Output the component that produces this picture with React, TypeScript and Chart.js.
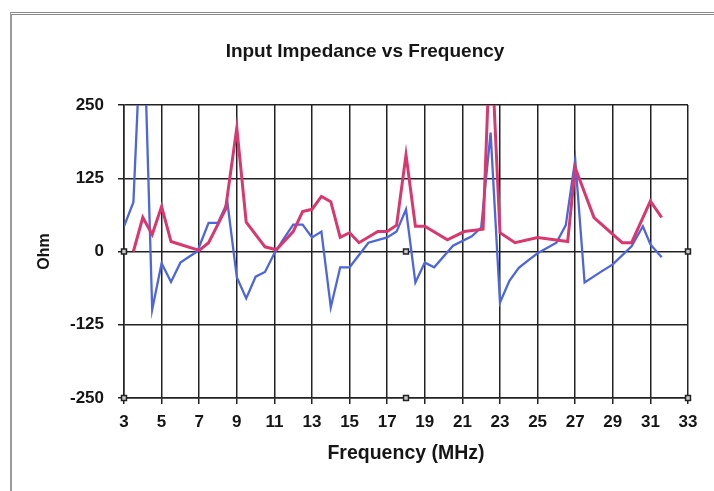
import React, { useEffect, useRef } from "react";
import { Chart, registerables } from "chart.js";

Chart.register(...registerables);

const chartTitle = "Input Impedance vs Frequency";
const xAxisTitle = "Frequency (MHz)";
const yAxisTitle = "Ohm";

const xMin = 3;
const xMax = 33;
const xStep = 2;
const yMin = -250;
const yMax = 250;
const yStep = 125;

const blueFreq = [3.0, 3.5, 4.0, 4.5, 5.0, 5.5, 6.0, 6.5, 6.9, 7.5, 8.0, 8.5, 9.0, 9.5, 10.0, 10.5, 11.0, 11.5, 12.0, 12.5, 13.0, 13.5, 14.0, 14.5, 15.0, 16.0, 17.0, 17.5, 18.0, 18.5, 19.0, 19.5, 20.5, 21.5, 22.0, 22.5, 23.0, 23.5, 24.0, 24.5, 25.0, 26.0, 26.5, 27.0, 27.5, 28.3, 29.0, 30.0, 30.6, 31.0, 31.6];
const blueOhm = [43, 84, 450, -99, -20, -52, -19, -8, 0, 49, 49, 84, -44, -80, -43, -35, -3, 22, 46, 46, 24, 34, -95, -27, -27, 15, 24, 34, 72, -53, -19, -27, 10, 26, 41, 203, -87, -50, -28, -15, -3, 15, 45, 157, -53, -36, -22, 9, 43, 12, -10];

const redFreq = [3.5, 4.0, 4.5, 5.0, 5.5, 6.0, 7.0, 7.5, 8.4, 9.0, 9.5, 10.5, 11.1, 12.0, 12.5, 13.0, 13.5, 14.0, 14.5, 15.0, 15.5, 16.5, 17.0, 17.5, 18.0, 18.5, 19.0, 20.2, 21.1, 22.1, 22.5, 23.0, 23.8, 25.0, 26.6, 27.0, 28.0, 29.5, 30.0, 31.0, 31.6];
const redOhm = [0, 58, 29, 77, 17, 12, 2, 15, 72, 211, 50, 8, 3, 34, 68, 72, 94, 85, 24, 32, 15, 34, 34, 45, 165, 43, 43, 20, 34, 38, 380, 32, 15, 24, 17, 143, 58, 15, 15, 86, 58];

const markerFreq = [3, 18, 33, 3, 18, 33];
const markerOhm = [0, 0, 0, -250, -250, -250];

const toPoints = (xs: number[], ys: number[]) => xs.map((x, i) => ({ x, y: ys[i] }));

const sansFont = '"Liberation Sans", Arial, sans-serif';

const titlePlugin = {
  id: "manualTitle",
  afterDraw(chart: any) {
    const ctx = chart.ctx;
    ctx.save();
    ctx.font = `bold 19px ${sansFont}`;
    ctx.fillStyle = "#151515";
    ctx.textAlign = "center";
    ctx.textBaseline = "middle";
    ctx.fillText(chartTitle, 365, 52);
    ctx.restore();
  },
};

export default function App() {
  const canvasRef = useRef<HTMLCanvasElement | null>(null);

  useEffect(() => {
    if (!canvasRef.current) return;
    const chart = new Chart(canvasRef.current, {
      type: "line",
      data: {
        datasets: [
          {
            label: "markers",
            data: toPoints(markerFreq, markerOhm),
            showLine: false,
            pointStyle: "rect",
            pointRadius: 3.5,
            pointBackgroundColor: "#c8c8c8",
            pointBorderColor: "#222",
            pointBorderWidth: 1.5,
            clip: false,
            order: 0,
          },
          {
            label: "R",
            data: toPoints(redFreq, redOhm),
            borderColor: "#d8386e",
            borderWidth: 3,
            pointRadius: 0,
            tension: 0,
            order: 1,
          },
          {
            label: "X",
            data: toPoints(blueFreq, blueOhm),
            borderColor: "#4d66dc",
            borderWidth: 2.3,
            pointRadius: 0,
            tension: 0,
            order: 2,
          },
        ],
      },
      options: {
        animation: false,
        responsive: false,
        maintainAspectRatio: false,
        layout: { padding: { top: 105, right: 26, bottom: 0, left: 0 } },
        plugins: {
          legend: { display: false },
          title: { display: false },
          tooltip: { enabled: false },
        },
        scales: {
          x: {
            type: "linear",
            min: xMin,
            max: xMax,
            afterFit: (scale: any) => {
              scale.height = 93;
            },
            ticks: {
              stepSize: xStep,
              autoSkip: false,
              maxRotation: 0,
              padding: 8,
              color: "#151515",
              font: { family: sansFont, size: 17, weight: "bold" },
            },
            grid: { color: "#222", lineWidth: 1.5, tickLength: 6, drawTicks: true },
            border: { color: "#222", width: 1.5 },
            title: {
              display: true,
              text: xAxisTitle,
              color: "#151515",
              font: { family: sansFont, size: 19.5, weight: "bold" },
              padding: { top: 0, bottom: 26 },
            },
          },
          y: {
            min: yMin,
            max: yMax,
            afterFit: (scale: any) => {
              scale.width = 124;
            },
            ticks: {
              stepSize: yStep,
              padding: 14,
              color: "#151515",
              font: { family: sansFont, size: 17, weight: "bold" },
            },
            grid: { color: "#222", lineWidth: 1.5, tickLength: 6, drawTicks: true },
            border: { color: "#222", width: 1.5 },
            title: {
              display: true,
              text: yAxisTitle,
              color: "#151515",
              font: { family: sansFont, size: 16, weight: "bold" },
              padding: { top: 35, bottom: 0 },
            },
          },
        },
      },
      plugins: [titlePlugin],
    });
    return () => chart.destroy();
  }, []);

  return (
    <div style={{ position: "absolute", left: 0, top: 0, width: 714, height: 491, background: "#fff" }}>
      <div
        style={{
          position: "absolute",
          left: 10,
          top: 12,
          width: 720,
          height: 500,
          borderTop: "3px double #8a8a8a",
          borderLeft: "2px solid #9a9a9a",
          boxSizing: "border-box",
          pointerEvents: "none",
        }}
      />
      <canvas ref={canvasRef} width={714} height={491} style={{ position: "absolute", left: 0, top: 0 }} />
    </div>
  );
}
